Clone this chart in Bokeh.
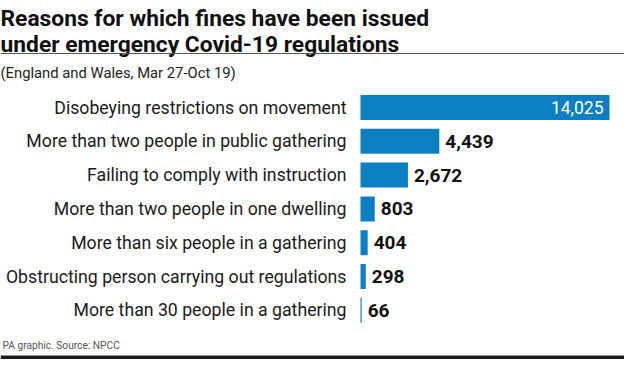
from bokeh.plotting import figure
from bokeh.models import Range1d
from bokeh.core.properties import value
from bokeh.embed import file_html
from bokeh.resources import INLINE

# ---- data ----
categories = [
    "Disobeying restrictions on movement",
    "More than two people in public gathering",
    "Failing to comply with instruction",
    "More than two people in one dwelling",
    "More than six people in a gathering",
    "Obstructing person carrying out regulations",
    "More than 30 people in a gathering",
]
fines = [14025, 4439, 2672, 803, 404, 298, 66]
value_labels = ["14,025", "4,439", "2,672", "803", "404", "298", "66"]

title_lines = ["Reasons for which fines have been issued",
               "under emergency Covid-19 regulations"]
subtitle = "(England and Wales, Mar 27-Oct 19)"
footer = "PA graphic. Source: NPCC"

# ---- layout ----
W, H = 624, 359
BAR_X0 = 360          # px where value 0 sits
BAR_PX_MAX = 249      # px length of the largest bar
ROW0 = 107            # px centre of first row
ROW_STEP = 33.8       # px between rows
BLUE = "#0b7fc1"
FONT = "Roboto"

per_px = max(fines) / BAR_PX_MAX
x_range = Range1d(-BAR_X0 * per_px, (W - BAR_X0) * per_px)
y_range = Range1d((H - ROW0) / ROW_STEP, -ROW0 / ROW_STEP)

p = figure(width=W, height=H, x_range=x_range, y_range=y_range,
           output_backend="svg", toolbar_location=None, min_border=0,
           outline_line_color=None, background_fill_color="white",
           border_fill_color="white")
p.axis.visible = False
p.grid.visible = False
p.extra_x_ranges = {"px": Range1d(0, W)}
p.extra_y_ranges = {"px": Range1d(H, 0)}

idx = list(range(len(categories)))

p.hbar(y=idx, left=0, right=fines, height=0.74, color=BLUE, line_color=None)

# category labels
p.text(x=[0] * len(idx), y=idx, text=categories, x_offset=-14,
       text_align="right", text_baseline="middle",
       text_font=value(FONT), text_font_size="17.7px", text_color="#1a1a1a")

# value labels: first inside (white), others outside
p.text(x=fines[:1], y=idx[:1], text=value_labels[:1], x_offset=-6,
       text_align="right", text_baseline="middle",
       text_font=value(FONT), text_font_size="17.5px", text_color="white")
p.text(x=fines[1:], y=idx[1:], text=value_labels[1:], x_offset=6,
       text_align="left", text_baseline="middle",
       text_font=value(FONT), text_font_size="19px", text_font_style="bold",
       text_color="#111111")

# header
p.text(x=[0, 0], y=[18, 44], text=title_lines, x_range_name="px", y_range_name="px",
       text_align="left", text_baseline="alphabetic",
       text_font=value(FONT), text_font_size="22.8px", text_font_style="bold",
       text_color="#111111")
p.segment(x0=[0], y0=[53], x1=[W], y1=[53], x_range_name="px", y_range_name="px",
          line_color="#555555", line_width=1.2)
p.text(x=[0], y=[72], text=[subtitle], x_range_name="px", y_range_name="px",
       text_align="left", text_baseline="middle",
       text_font=value(FONT), text_font_size="14.8px", text_color="#222222")

# footer
p.text(x=[2], y=[345], text=[footer], x_range_name="px", y_range_name="px",
       text_align="left", text_baseline="middle",
       text_font=value(FONT), text_font_size="10.2px", text_color="#555555")
p.segment(x0=[0], y0=[357], x1=[W], y1=[357], x_range_name="px", y_range_name="px",
          line_color="#1a1a1a", line_width=4)

open("out.html", "w").write(file_html(p, INLINE))
